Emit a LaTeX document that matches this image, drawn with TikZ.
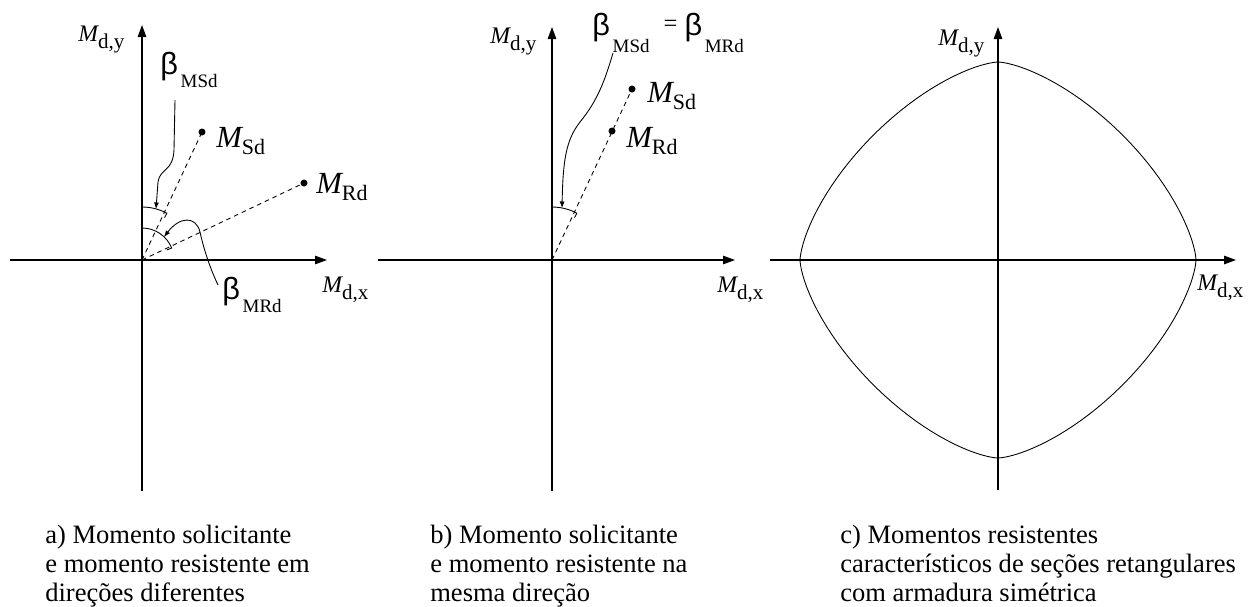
\documentclass[tikz,border=0pt]{standalone}
\usepackage{fontspec}
\setmainfont{Liberation Serif}
\newfontfamily\betafont{Liberation Sans}
\usetikzlibrary{arrows.meta}

\newcommand{\Mlab}[1]{{\fontsize{13.5}{13.5}\selectfont\itshape M}\raisebox{-4pt}{\fontsize{12}{12}\selectfont #1}}
\newcommand{\Mbig}[1]{{\fontsize{17.5}{17.5}\selectfont\itshape M}\raisebox{-4pt}{\fontsize{12.5}{12.5}\selectfont #1}}
\newcommand{\betasub}[2][7.5pt]{{\betafont\fontsize{17.5}{17.5}\selectfont β}\hspace{1.5pt}\raisebox{-#1}{\fontsize{10.8}{10.8}\selectfont #2}}

\tikzset{
  axis/.style={line width=0.7pt,-{Triangle[length=0.24cm,width=0.17cm]}},
  dot/.style={circle,fill,inner sep=0pt,minimum size=0.14cm},
  ray/.style={line width=0.5pt,dash pattern=on 0.09cm off 0.08cm},
  angarc/.style={line width=0.5pt},
  leader/.style={line width=0.5pt,-{Latex[length=0.13cm,width=0.1cm]}},
  lab/.style={anchor=base west,inner sep=0pt},
  caption/.style={anchor=north west,inner sep=0pt,align=left,font=\fontsize{15.1}{16.4}\selectfont}
}

\begin{document}
\begin{tikzpicture}[x=0.02cm,y=-0.02cm]
  \useasboundingbox (0,0) rectangle (1258,606);
  % a) different directions
  \coordinate (oa) at (142,260);
  \draw[axis] (10,260) -- (327,260);
  \draw[axis] (142,491) -- (142,25);
  \node[dot] (sda) at (202,132) {};
  \node[dot] (rda) at (304,183) {};
  \draw[ray] (oa) -- (sda.center);
  \draw[ray] (oa) -- (rda.center);
  \draw[angarc] (oa) ++(-90:53) arc[start angle=-90,end angle=-62,radius=53] -- ++(118:5);
  \draw[angarc] (oa) ++(-90:32) arc[start angle=-90,end angle=-22,radius=32] -- ++(158:5);
  \coordinate (lsa) at (175,100); \coordinate (tsa) at (156,209);
  \coordinate (lra) at (218,285); \coordinate (tra) at (164,237);
  \draw[leader] (lsa) -- (174,150) .. controls (173,172) and (160,168) .. (158,182) -- (tsa);
  \draw[leader] (lra) .. controls (210,268) and (204,250) .. (200,232) .. controls (196,216) and (180,216) .. (tra);
  \node[lab] (mya) at (78,41) {\Mlab{d,y}};
  \node[lab] (mxa) at (322,292) {\Mlab{d,x}};
  \node[lab] (bsa) at (160,74) {\betasub{MSd}};
  \node[lab] (bra) at (222,299) {\betasub{MRd}};
  \node[lab] (msa) at (216,147) {\Mbig{Sd}};
  \node[lab] (mra) at (316,193) {\Mbig{Rd}};
  % b) same direction
  \coordinate (ob) at (552,260);
  \draw[axis] (378,260) -- (735,260);
  \draw[axis] (552,491) -- (552,27);
  \node[dot] (sdb) at (632,89) {};
  \node[dot] (rdb) at (612,131) {};
  \draw[ray] (ob) -- (sdb.center);
  \draw[angarc] (ob) ++(-90:53) arc[start angle=-90,end angle=-62,radius=53] -- ++(118:5);
  \coordinate (lb) at (613,53); \coordinate (tb) at (562,208);
  \draw[leader] (lb) .. controls (605,80) and (598,100) .. (580,122) .. controls (566,140) and (563,160) .. (tb);
  \node[lab] (myb) at (490,43) {\Mlab{d,y}};
  \node[lab] (mxb) at (717,292) {\Mlab{d,x}};
  \node[lab] (btb) at (592,35) {\betasub[10pt]{MSd}\hspace{8pt}\raisebox{2pt}{\fontsize{14}{14}\selectfont =}\hspace{4pt}\betasub[10pt]{MRd}};
  \node[lab] (msb) at (647,102) {\Mbig{Sd}};
  \node[lab] (mrb) at (626,147) {\Mbig{Rd}};
  % c) resisting envelope
  \coordinate (oc) at (998,260);
  \draw[axis] (770,260) -- (1236,260);
  \draw[axis] (998,490) -- (998,27);
  \draw[line width=0.5pt] plot[domain=1.25:361.25,samples=145]
    ({998+198*cos(\x)*pow(abs(cos(\x)),1/3)},{260-198*sin(\x)*pow(abs(sin(\x)),1/3)}) -- cycle;
  \node[lab] (myc) at (938,45) {\Mlab{d,y}};
  \node[lab] (mxc) at (1197,290) {\Mlab{d,x}};
  % captions
  \node[caption] (capa) at (45,525) {a) Momento solicitante\\e momento resistente em\\direções diferentes};
  \node[caption] (capb) at (430,525) {b) Momento solicitante\\e momento resistente na\\mesma direção};
  \node[caption] (capc) at (840,525) {c) Momentos resistentes\\característicos de seções retangulares\\com armadura simétrica};
\end{tikzpicture}
\end{document}
